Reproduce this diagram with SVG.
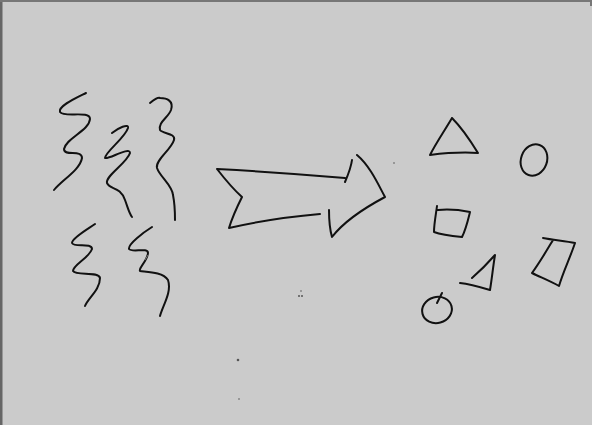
<svg xmlns="http://www.w3.org/2000/svg" width="592" height="425" viewBox="0 0 592 425">
<style>
.s{fill:none;stroke:#111;stroke-width:2;stroke-linecap:round;stroke-linejoin:round}
.d{fill:#555}
</style>
<rect width="592" height="425" fill="#cbcbcb"/>
<rect x="0" y="0" width="2.5" height="425" fill="#666"/>
<rect x="0" y="0" width="592" height="2" fill="#777"/>
<rect x="590" y="0" width="2" height="6" fill="#777"/>
<g id="squiggle1"><path class="s" d="M86,93 C76,98 58,106 60,112 C64,118 90,110 90,119 C89,131 66,138 64,149 C64,157 82,149 82,158 C80,170 62,180 54,190"/></g>
<g id="squiggle2"><path class="s" d="M112,133 C118,128 129,123 128,128 C125,138 105,152 105,158 C108,160 130,146 130,153 C127,163 105,176 107,183 C110,190 120,186 125,200 C128,208 129,213 132,217"/></g>
<g id="squiggle3"><path class="s" d="M150,103 C155,99 158,97 160,98 C167,98 174,101 171,110 C168,118 158,122 160,130 C163,134 176,133 174,140 C171,150 155,160 157,168 C160,177 172,185 173,195 C175,205 175,213 175,220"/></g>
<g id="squiggle4"><path class="s" d="M95,224 C88,229 72,238 72,243 C74,248 92,242 92,249 C89,258 73,265 73,271 C76,276 99,271 100,278 C100,290 88,298 85,306"/></g>
<g id="squiggle5"><path class="s" d="M152,227 C144,232 128,244 129,249 C132,253 148,247 148,253 C147,262 138,268 140,271 C148,272 163,272 168,280 C172,292 163,305 160,316"/><path d="M145,260 L148,255" stroke="#777" stroke-width="1" fill="none"/></g>
<g id="arrow"><path class="s" d="M217,169 C255,171 300,174 345,178 M345,182 C348,175 351,168 352,160 M357,155 C370,166 378,184 385,197 C370,205 345,220 332,237 C330,230 329,218 329,210 M320,214 C285,217 255,222 229,228 C233,215 238,205 242,197 C233,189 224,178 217,169"/></g>
<g id="triangle"><path class="s" d="M452,118 C445,130 436,143 430,155 C446,153 462,152 478,153 C470,140 460,126 452,118"/></g>
<g id="circle1"><ellipse class="s" cx="534" cy="160" rx="13" ry="16" transform="rotate(20 534 160)"/></g>
<g id="square"><path class="s" d="M437,206 C436,214 434,224 434,232 C442,235 452,236 462,237 C466,229 468,220 470,212 C460,210 448,209 438,210"/></g>
<g id="triangle2"><path class="s" d="M472,278 C480,271 488,263 495,255 C493,267 492,278 490,290 C480,287 470,284 460,283"/></g>
<g id="trapezoid"><path class="s" d="M543,238 C553,240 565,241 575,243 C570,258 563,272 559,286 C550,281 540,277 532,273 C540,262 547,250 553,240"/></g>
<g id="circle2"><ellipse class="s" cx="437" cy="310" rx="15" ry="13" transform="rotate(-15 437 310)"/><path class="s" d="M442,293 L437,303" stroke-width="1.5"/></g>
<g id="specks"><circle class="d" cx="299" cy="296" r="1"/><circle class="d" cx="302" cy="296" r="1"/><circle class="d" cx="301" cy="291" r="0.8"/><circle class="d" cx="238" cy="360" r="1.3"/><circle class="d" cx="239" cy="399" r="0.8"/><circle class="d" cx="394" cy="163" r="0.8"/></g>
</svg>
